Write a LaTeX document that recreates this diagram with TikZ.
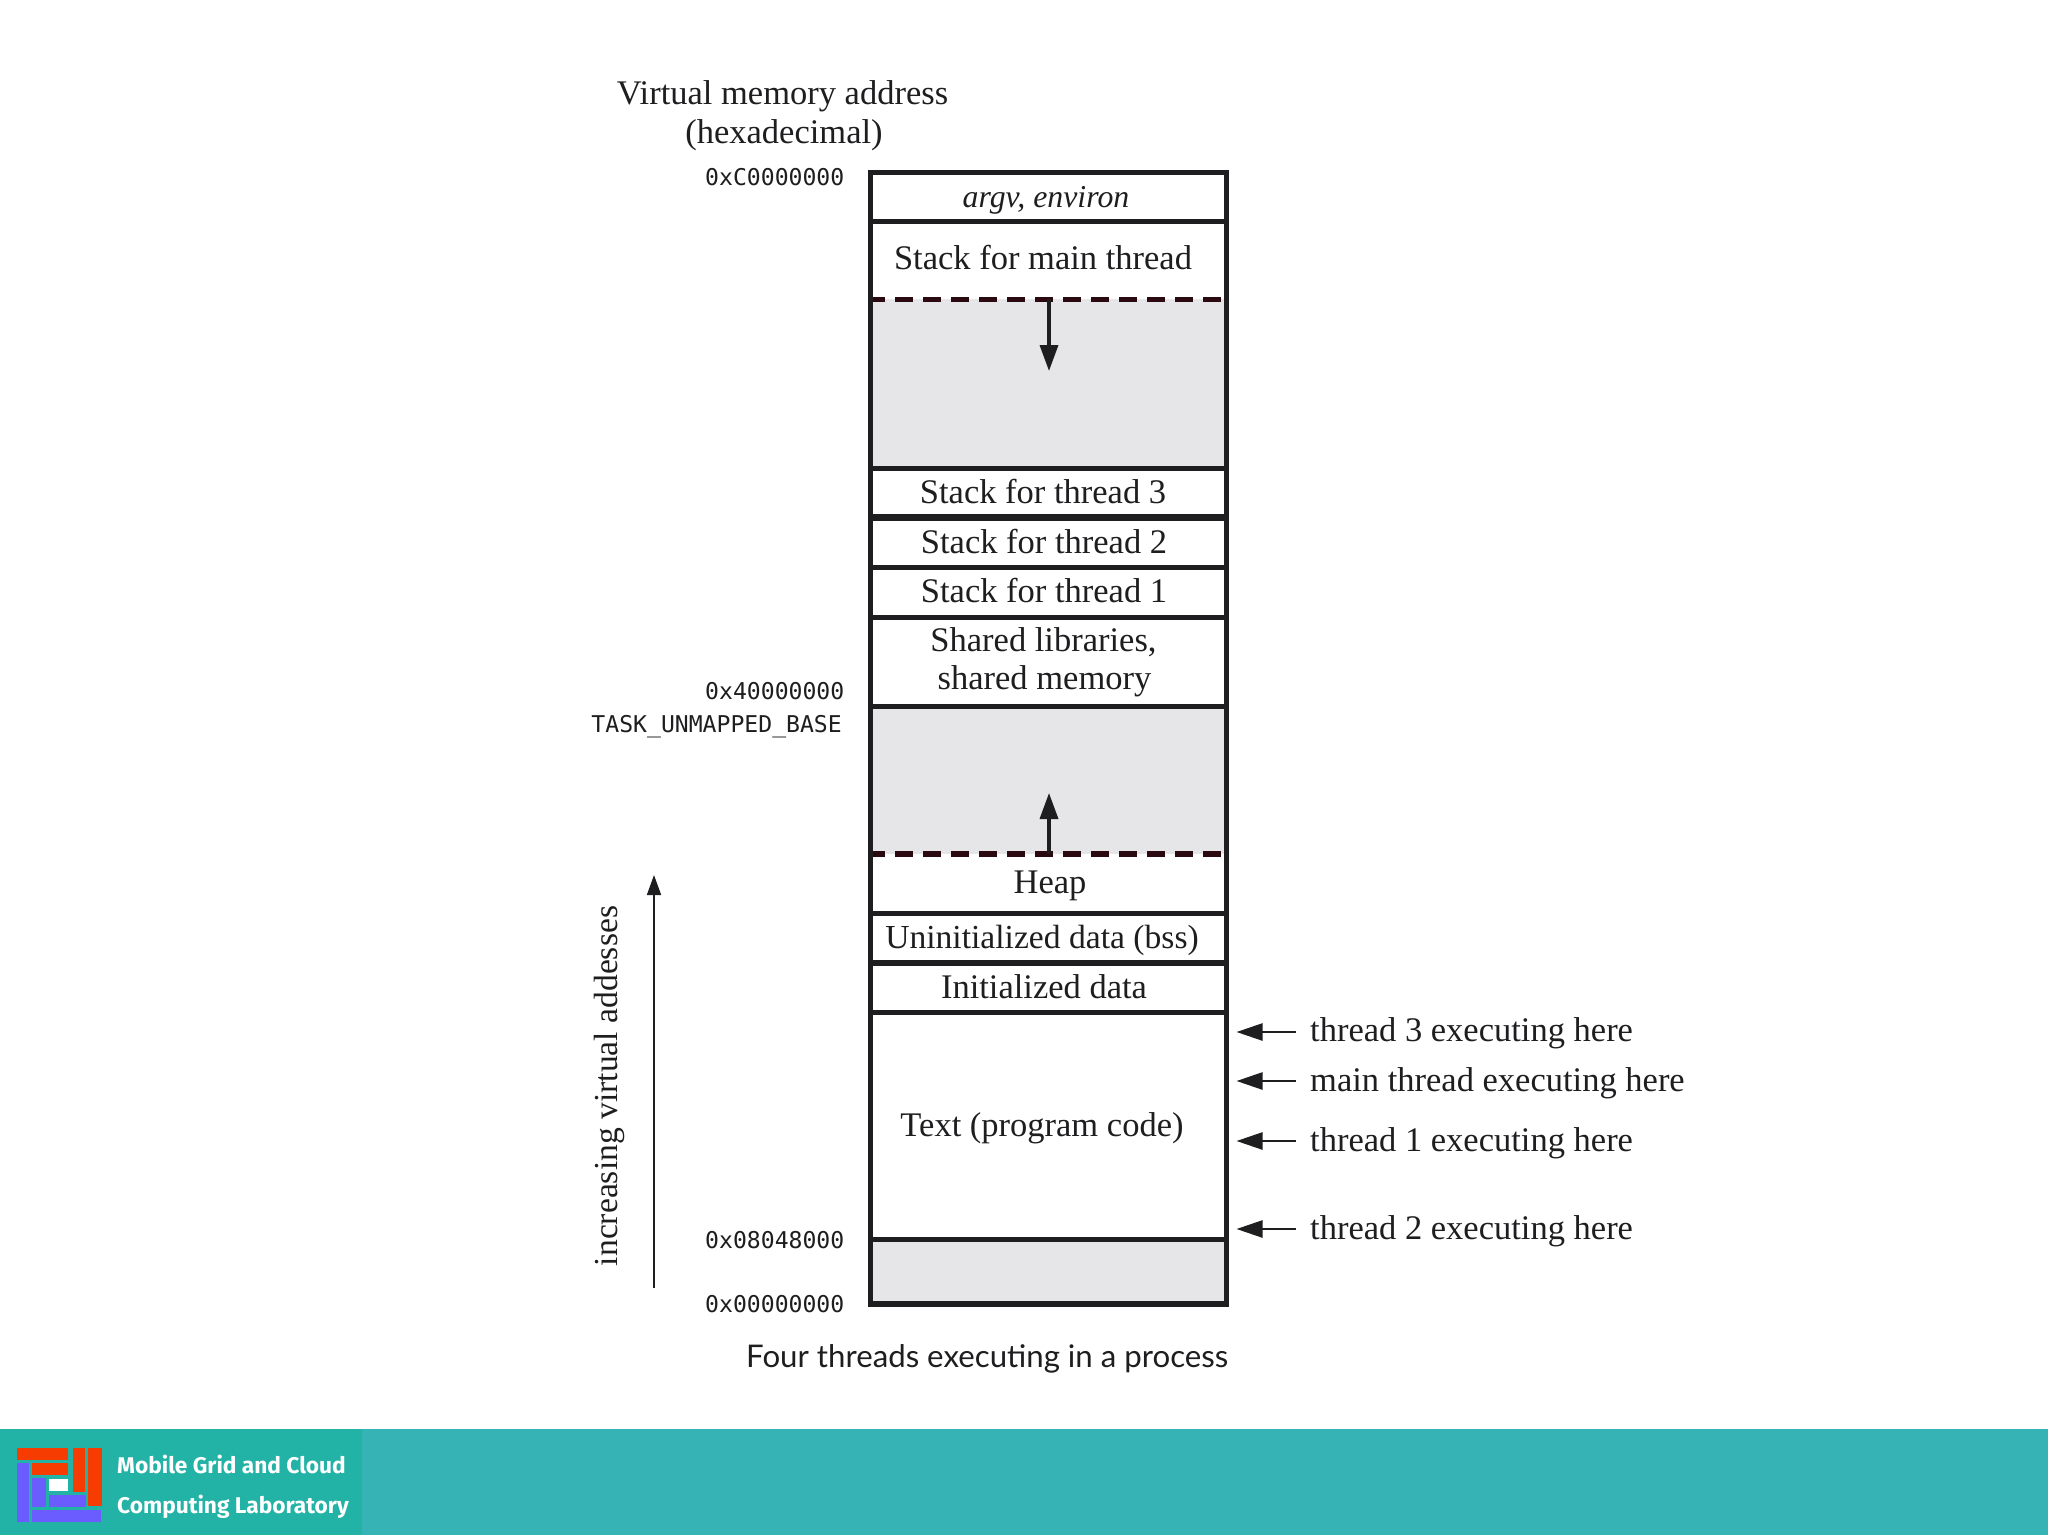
\documentclass[tikz,border=0pt]{standalone}
\usepackage{fontspec}
\usetikzlibrary{arrows.meta}
\setmainfont{Liberation Serif}
\newfontfamily\monof{DejaVu Sans Mono}
\newfontfamily\capf{Lato}
\newfontfamily\logof{Fira Sans}
\definecolor{ink}{HTML}{1E1E20}
\definecolor{dashink}{HTML}{2A0A10}
\definecolor{voidgrey}{HTML}{E6E6E8}
\definecolor{bandteal}{HTML}{36B3B5}
\definecolor{logoteal}{HTML}{22B2A6}
\definecolor{logored}{HTML}{F63C00}
\definecolor{logoblue}{HTML}{6A5CFF}
\tikzset{
  x=1pt,y=-1pt,
  lab/.style={anchor=base,inner sep=0pt,text=ink,font=\fontsize{34.5}{40}\selectfont},
  labsmall/.style={lab,font=\fontsize{33.6}{40}\selectfont},
  ital/.style={lab,font=\itshape\fontsize{31.8}{40}\selectfont},
  addr/.style={anchor=base east,inner sep=0pt,text=ink,font=\monof\fontsize{23.1}{28}\selectfont},
  notetext/.style={anchor=base west,inner sep=0pt,text=ink,font=\fontsize{34.5}{40}\selectfont},
  capt/.style={anchor=base west,inner sep=0pt,text=ink,font=\capf\fontsize{31.2}{40}\selectfont},
  logotext/.style={anchor=base west,inner sep=0pt,text=white,font=\logof\bfseries\fontsize{22.7}{28}\selectfont},
  boxframe/.style={draw=ink,line width=5pt},
  divider/.style={draw=ink,line width=5pt},
  thickdiv/.style={draw=ink,line width=6.5pt},
  dashline/.style={draw=dashink,line width=5.5pt,dash pattern=on 18pt off 10pt,dash phase=6pt},
  growarrow/.style={draw=ink,line width=3.5pt,-{Triangle[length=26pt,width=18pt]}},
  pointer/.style={draw=ink,line width=2.5pt,-{Triangle[length=26pt,width=17pt]}},
  axisarrow/.style={draw=ink,line width=1.6pt,-{Triangle[length=20pt,width=14pt]}}
}
\begin{document}
\begin{tikzpicture}
\useasboundingbox (0,0) rectangle (2048,1536);
\fill[white] (0,0) rectangle (2048,1536);
% grey free regions
\fill[voidgrey] (870,299) rectangle (1226,468);
\fill[voidgrey] (870,706) rectangle (1226,854);
\fill[voidgrey] (870,1239) rectangle (1226,1304);
% dividers
\draw[divider] (870,221) -- (1226,221);
\draw[divider] (870,468) -- (1226,468);
\draw[thickdiv] (870,517.5) -- (1226,517.5);
\draw[divider] (870,567) -- (1226,567);
\draw[divider] (870,617.5) -- (1226,617.5);
\draw[divider] (870,706) -- (1226,706);
\draw[divider] (870,913.5) -- (1226,913.5);
\draw[thickdiv] (870,963) -- (1226,963);
\draw[divider] (870,1012.5) -- (1226,1012.5);
\draw[divider] (870,1239.5) -- (1226,1239.5);
\draw[dashline] (873,299.5) -- (1222,299.5);
\draw[dashline] (873,854) -- (1222,854);
\draw[boxframe] (870,172.5) rectangle (1226,1304);
\draw[thickdiv] (867.5,1304) -- (1228.5,1304);
% growth arrows
\coordinate (stacktop) at (1049,299);
\coordinate (stacktip) at (1049,371);
\coordinate (heaptop) at (1049,854);
\coordinate (heaptip) at (1049,793);
\draw[growarrow] (stacktop) -- (stacktip);
\draw[growarrow] (heaptop) -- (heaptip);
% cell labels
\node[ital] (argv) at (1046,207.5) {argv, environ};
\node[lab] (smain) at (1043,269.5) {Stack for main thread};
\node[lab] (s3) at (1043,503) {Stack for thread 3};
\node[lab] (s2) at (1044,553) {Stack for thread 2};
\node[lab] (s1) at (1044,602.5) {Stack for thread 1};
\node[lab] (sl1) at (1043.5,651.5) {Shared libraries,};
\node[lab] (sl2) at (1044.5,689.5) {shared memory};
\node[lab] (heap) at (1050,893.5) {Heap};
\node[labsmall] (bss) at (1042,948.5) {Uninitialized data (bss)};
\node[lab] (init) at (1044,998.5) {Initialized data};
\node[lab] (code) at (1042,1136.5) {Text (program code)};
% header
\node[lab] (h1) at (782.5,104.5) {Virtual memory address};
\node[lab] (h2) at (784,143) {(hexadecimal)};
% addresses
\node[addr] (a1) at (844.5,185) {0xC0000000};
\node[addr] (a2) at (844.5,699) {0x40000000};
\node[addr] (a3) at (842,732) {TASK\_UNMAPPED\_BASE};
\node[addr] (a4) at (844.5,1248) {0x08048000};
\node[addr] (a5) at (844.5,1312) {0x00000000};
% axis
\coordinate (axisfoot) at (654,1288);
\coordinate (axistip) at (654,875);
\draw[axisarrow] (axisfoot) -- (axistip);
\node[labsmall,rotate=90] (axislabel) at (617,1086) {increasing virtual addesses};
% execution pointers
\node[notetext] (t3) at (1310,1041.5) {thread 3 executing here};
\node[notetext] (tm) at (1310,1091.5) {main thread executing here};
\node[notetext] (t1) at (1310,1151.5) {thread 1 executing here};
\node[notetext] (t2) at (1310,1239.5) {thread 2 executing here};
\coordinate (p3) at (1236.5,1032);
\coordinate (pm) at (1236.5,1081);
\coordinate (p1) at (1236.5,1141);
\coordinate (p2) at (1236.5,1229);
\coordinate (q3) at (1296,1032);
\coordinate (qm) at (1296,1081);
\coordinate (q1) at (1296,1141);
\coordinate (q2) at (1296,1229);
\draw[pointer] (q3) -- (p3);
\draw[pointer] (qm) -- (pm);
\draw[pointer] (q1) -- (p1);
\draw[pointer] (q2) -- (p2);
% caption
\node[capt] (caption) at (746,1367) {Four threads executing in a process};
% footer band
\fill[bandteal] (0,1429) rectangle (2048,1535);
\fill[logoteal] (0,1429) rectangle (362,1535);
\fill[logored] (16.7,1447.7) rectangle (68,1460);
\fill[logored] (32,1463) rectangle (68,1475);
\fill[logored] (72.7,1447.7) rectangle (85,1491.7);
\fill[logored] (88,1447.7) rectangle (102,1505.7);
\fill[logoblue] (16.7,1463) rectangle (29.3,1522);
\fill[logoblue] (32,1478) rectangle (46,1506.7);
\fill[logoblue] (49,1495) rectangle (86,1506.7);
\fill[logoblue] (32,1510) rectangle (101,1522);
\fill[white] (49,1479) rectangle (68,1490.7);
\node[logotext] (lg1) at (117,1473) {Mobile Grid and Cloud};
\node[logotext] (lg2) at (117,1513) {Computing Laboratory};
\end{tikzpicture}
\end{document}
